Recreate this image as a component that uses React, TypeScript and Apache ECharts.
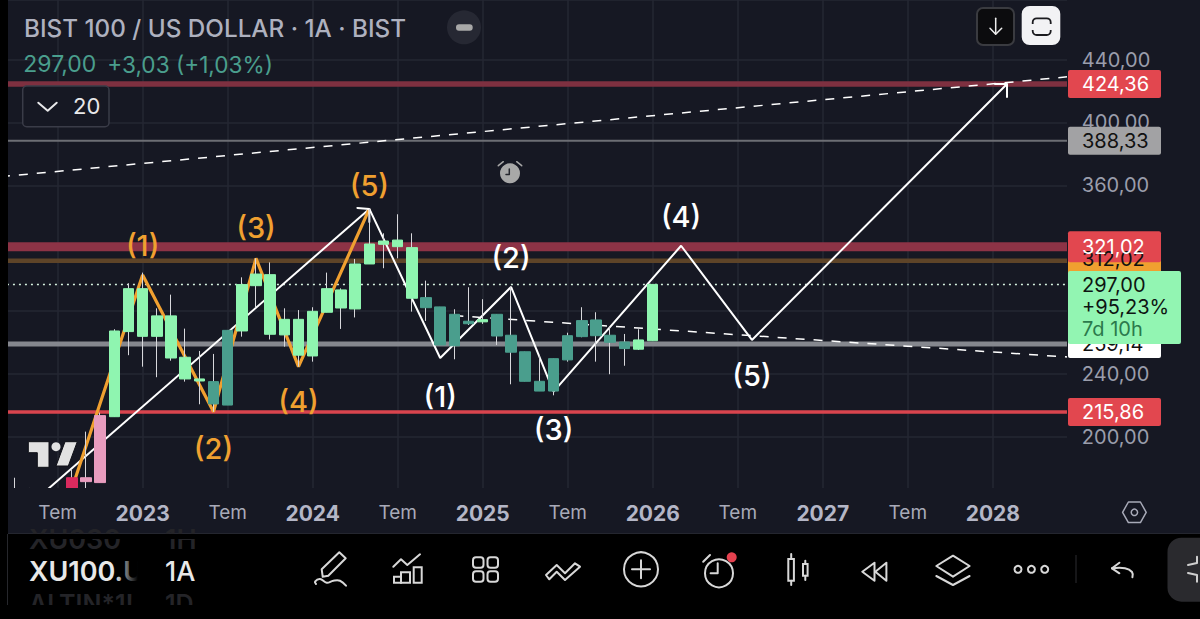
import React, { useEffect, useRef } from "react";
import * as echarts from "echarts";

const FONT = "Inter, 'Noto Sans', sans-serif";

// Mar 2022 .. Jul 2028, one entry per month
const startYear = 2022;
const startMonth = 2;
const monthCount = 77;
const categories: string[] = [];
for (let i = 0; i < monthCount; i++) {
  const m = startMonth + i;
  categories.push(`${startYear + Math.floor(m / 12)}-${String((m % 12) + 1).padStart(2, "0")}`);
}

// Candle values from Mar 2022. null = outside the visible range.
const opens: (number | null)[] = [
  null, null, null, null, null, 166, 171.6, 171, 212.9, 267, 264, 277, 277, 250.7, 235.6, 235.2, 267.8,
  267.4, 296.2, 303.2, 274.8, 274.8, 251.5, 279.3, 282, 281.4, 310, 322.5, 325.2, 320.4, 288.6, 282.7,
  278, 273.6, 273.2, 278, 264.7, 254.2, 235.4, 249.8, 249, 263.8, 274.4, 264.7, 260.4, 255.8, 261.2,
];
const closes: (number | null)[] = [
  null, null, null, null, null, 174.1, 174.1, 213.6, 267.4, 294.3, 294.3, 264, 250.2, 236.9, 236.9, 221, 220.3,
  296.9, 303.6, 265.3, 264.9, 252, 279.9, 294.3, 293.5, 310, 322.7, 324.6, 321, 288.2, 282.2, 258.5,
  258, 272, 274.6, 264.2, 253.9, 235.4, 229.2, 229.2, 264.4, 274, 264.4, 260.2, 256.2, 261.7, 297,
];
const lows: (number | null)[] = [
  null, 164, 164, null, null, 166, 164, 171, 212.9, 252, 244.7, 238, 248.5, 235.2, 220.8, 216, 220.3,
  263.8, 282.5, 262, 257.4, 244.7, 247.9, 279.3, 268.7, 276, 310, 307.3, 313.6, 279.7, 273.8, 258.5,
  249.4, 271.2, 271.9, 258.5, 233.5, 235.4, 229.2, 226.5, 247.9, 263.4, 247.9, 239.9, 245.3, 255.3, 261.2,
];
const highs: (number | null)[] = [
  null, 174.1, 167.6, null, null, 179, 203.4, 215.5, 268.5, 297.7, 304.5, 281.8, 290.5, 268.9, 254.7, 252.8, 267.8,
  301.5, 313.6, 311, 281.8, 280.7, 282.5, 304.5, 294.5, 313.2, 345.4, 329.5, 341.6, 329.5, 299.4, 282.7,
  281.2, 295.2, 287.6, 278, 295.6, 254.2, 252.1, 249.8, 266.3, 282.5, 279.3, 270.2, 265.5, 268.5, 297,
];
// r red, p pink, g bright green, t teal
const kindOf: string[] = [
  "r", "r", "r", "r", "r", "r", "p", "p", "g", "g", "g", "g", "g", "g", "g", "t", "t",
  "g", "g", "g", "g", "g", "g", "g", "g", "g", "g", "g", "g", "g", "t", "t",
  "t", "t", "g", "t", "t", "t", "t", "t", "t", "t", "t", "t", "t", "g", "g",
];

const yTicksLabelled = [200, 240, 280, 320, 360, 400, 440];
const orangeWave: [number, number][] = [[5, 167], [10, 303], [15, 216], [18, 313.6], [21, 244.7], [26, 345]];
const whiteLeadIn: [number, number][] = [[3, 164.4], [26, 345]];
const whiteWave: [number, number][] = [[26, 345], [31, 250.2], [36, 295.4], [39, 228.8], [48, 321.6], [53, 261.7], [71, 424.4]];
const upperDashed: [number, number][] = [[0, 365.5], [76, 429.6]];
const lowerDashed: [number, number][] = [[32, 277.2], [76, 250.4]];

const levelRed1 = 424.36;
const levelGrey = 388.33;
const levelRed2 = 321.02;
const levelOrange = 312.02;
const levelLast = 297;
const levelGreyThick = 259.14;
const levelRed3 = 215.86;

const orangeLabels: [number, number, string][] = [[10, 322, "(1)"], [15, 192.4, "(2)"], [18, 332.9, "(3)"], [21, 222.3, "(4)"], [26, 360.2, "(5)"]];
const whiteLabels: [number, number, string][] = [[31, 226, "(1)"], [36, 314.4, "(2)"], [39, 204.5, "(3)"], [48, 340.5, "(4)"], [53, 238.8, "(5)"]];

const COLORS: Record<string, string> = { r: "#d92a5e", p: "#e89cbe", g: "#8ff5b0", t: "#4a9e8d" };
const BG = "#161823";

function levelSeries(v: number, color: string, width: number, type: any = "solid") {
  return {
    type: "line", z: 1, symbol: "none", silent: true,
    data: [[0, v], [76, v]],
    lineStyle: { color, width, type, cap: "butt" },
  };
}
function pathSeries(data: [number, number][], color: string, width: number, type: any = "solid") {
  return { type: "line", z: 1, symbol: "none", silent: true, data, lineStyle: { color, width, type } };
}

export default function App() {
  const ref = useRef<HTMLDivElement>(null);
  useEffect(() => {
    const chart = echarts.init(ref.current!, undefined, { renderer: "svg" });
    const isLabelled = (i: number) => {
      const m = (startMonth + i) % 12;
      return (m === 0 || m === 6) && i < 76;
    };
    const bodyData = opens.map((o, i) => {
      const c = closes[i];
      if (o == null || c == null) return { value: ["-", "-", "-", "-"] };
      const col = COLORS[kindOf[i]];
      return {
        value: [o, c, Math.min(o, c), Math.max(o, c)],
        itemStyle: { color: col, color0: col, borderColor: col, borderColor0: col },
      };
    });
    const wickData = lows.map((l, i) => {
      const h = highs[i];
      if (l == null || h == null) return { value: ["-", "-", "-", "-"] };
      return { value: [l, h, l, h] };
    });
    const labelSeries = (data: [number, number, string][], color: string) => ({
      type: "scatter", z: 5, silent: true, symbolSize: 1, itemStyle: { color: "rgba(0,0,0,0)" },
      data,
      label: {
        show: true, position: "inside", color, fontFamily: FONT, fontSize: 29, fontWeight: 500, opacity: 1,
        formatter: (p: any) => p.data[2],
      },
    });

    chart.setOption({
      animation: false,
      backgroundColor: BG,
      grid: { left: 0.93, right: 122.15, top: 0, bottom: 119.1, containLabel: false },
      xAxis: [
        {
          type: "category", data: categories, boundaryGap: false, z: 0,
          axisLine: { show: false }, axisTick: { show: false }, axisLabel: { show: false },
          splitLine: { show: true, interval: (i: number) => isLabelled(i), lineStyle: { color: "#252733", width: 1.5 } },
        },
        {
          type: "category", data: categories, boundaryGap: false, z: 60, position: "bottom",
          axisLine: { show: false }, axisTick: { show: false }, splitLine: { show: false },
          axisLabel: {
            show: true, interval: (i: number) => isLabelled(i), margin: 3.5, hideOverlap: false,
            formatter: (v: string) => {
              const [y, m] = v.split("-");
              return m === "01" ? `{y|${y}}` : "{m|Tem}";
            },
            rich: {
              y: { fontFamily: FONT, fontSize: 21, fontWeight: 700, color: "#b4b6c6" },
              m: { fontFamily: FONT, fontSize: 19, color: "#a8aab8" },
            },
          },
        },
      ],
      yAxis: [
        {
          type: "value", min: 160, max: 477.83, interval: 40, position: "right", z: 0,
          axisLine: { show: false }, axisTick: { show: false }, axisLabel: { show: false },
          splitLine: { show: true, lineStyle: { color: "#252733", width: 1.5 } },
        },
        {
          type: "value", min: 160, max: 477.83, interval: 40, position: "right", z: 60,
          axisLine: { show: false }, axisTick: { show: false }, splitLine: { show: false },
          axisLabel: {
            show: true, margin: 4, fontFamily: FONT, fontSize: 20, color: "#9a9dab", padding: [0, 0, 4, 0],
            formatter: (v: number) => (yTicksLabelled.includes(v) ? v.toFixed(2).replace(".", ",") : ""),
          },
        },
      ],
      series: [
        levelSeries(levelRed1, "#7e3040", 5.5),
        levelSeries(levelGrey, "#6c6e74", 2),
        levelSeries(levelRed2, "#8d3346", 9),
        levelSeries(levelOrange, "#5e4428", 4.5),
        levelSeries(levelLast, "#d5f0de", 1.5, [2, 4]),
        levelSeries(levelGreyThick, "#85878e", 5),
        levelSeries(levelRed3, "#d9444e", 3.5),
        pathSeries(upperDashed, "#ffffff", 1.5, [9, 9]),
        pathSeries(lowerDashed, "#ffffff", 1.5, [9, 9]),
        pathSeries(whiteLeadIn, "#ffffff", 2),
        pathSeries(orangeWave, "#f0a030", 3.2),
        pathSeries(whiteWave, "#ffffff", 2),
        {
          type: "candlestick", z: 3, silent: true, barWidth: 1, data: wickData,
          itemStyle: { color: "#d8d8dc", color0: "#d8d8dc", borderColor: "#d8d8dc", borderColor0: "#d8d8dc", borderWidth: 1 },
        },
        {
          type: "candlestick", z: 4, silent: true, barWidth: 11, data: bodyData,
          itemStyle: { borderWidth: 1 },
        },
        labelSeries(orangeLabels, "#f0a030"),
        labelSeries(whiteLabels, "#ffffff"),
      ],
    });

    const py = (v: number) => chart.convertToPixel({ yAxisIndex: 0 }, v) as number;
    const px = (i: number) => chart.convertToPixel({ xAxisIndex: 0 }, i) as number;

    const ICON = "#d8d8d8";
    const txt = (text: string, x: number, y: number, fontSize: number, fill: string, z: number, extra: any = {}) => ({
      type: "text", z, silent: true,
      style: { text, x, y, fontSize, fill, fontFamily: FONT, textAlign: "left", textVerticalAlign: "middle", ...extra },
    });
    const rect = (x: number, y: number, w: number, h: number, fill: any, z: number, r = 0, stroke?: string, lw = 1) => ({
      type: "rect", z, silent: true, shape: { x, y, width: w, height: h, r },
      style: { fill, stroke: stroke ?? "none", lineWidth: lw },
    });
    const poly = (pts: number[][], z = 72, stroke = ICON, lw = 2, extra: any = {}) => ({
      type: "polyline", z, silent: true, shape: { points: pts, ...extra },
      style: { stroke, lineWidth: lw, fill: "none", lineJoin: "round", lineCap: "round" },
    });
    const polyClosed = (pts: number[][], z = 72, stroke = ICON, lw = 2, fill = "none") => ({
      type: "polygon", z, silent: true, shape: { points: pts },
      style: { stroke, lineWidth: lw, fill, lineJoin: "round" },
    });
    const circ = (cx: number, cy: number, r: number, fill: string, z = 72, stroke = "none", lw = 2) => ({
      type: "circle", z, silent: true, shape: { cx, cy, r }, style: { fill, stroke, lineWidth: lw },
    });

    const tag = (v: number, h: number, text: string, fill: string, color: string, dy = 0) => {
      const y = py(v);
      return [rect(1068, y - h / 2, 93, h, fill, 70, 2), txt(text, 1082, y + dy, 20, color, 71)];
    };
    const headA = [px(26), py(345)];
    const headB = [px(71), py(424.4)];
    const y297 = py(levelLast);

    const elements: any[] = [
      // logo
      polyClosed([[28.3, 441.7], [49, 441.7], [49, 467.3], [37.3, 467.3], [37.3, 452.7], [28.3, 452.7]], 2, "#0e0f16", 1, "#e2e2e2"),
      circ(56, 446.7, 4.5, "#e2e2e2", 2),
      polyClosed([[65, 441.7], [77.3, 441.7], [68.3, 466], [56, 466]], 2, "#0e0f16", 1, "#e2e2e2"),
      // arrow heads
      poly([[headA[0] - 12, headA[1] - 1], [headA[0], headA[1]], [headA[0], headA[1] + 13]], 2, "#ffffff", 2),
      poly([[headB[0] - 12, headB[1]], [headB[0], headB[1]], [headB[0], headB[1] + 13]], 2, "#ffffff", 2),
      // masks
      rect(0, 0, 8, 534, "#000000", 50),
      rect(1067, 0, 133, 488, BG, 50),
      rect(8, 488, 1192, 46, BG, 50),
      rect(0, 534, 1200, 85, "#000000", 50),
      rect(8, 533.5, 1192, 1, "#33353d", 51),
      rect(7, 534, 1, 71, "#26272c", 51),
      // tags (lowest first)
      ...tag(levelOrange, 28, "312,02", "#f0a030", "#111111", -2),
      ...tag(levelGreyThick, 28, "259,14", "#ffffff", "#111111"),
      ...tag(levelRed1, 28, "424,36", "#e2474f", "#ffffff"),
      ...tag(levelGrey, 28, "388,33", "#a2a2a4", "#111111"),
      ...tag(levelRed3, 28, "215,86", "#e2474f", "#ffffff"),
      ...tag(levelRed2, 31, "321,02", "#e2474f", "#ffffff"),
      { ...rect(1068, y297 - 13.5, 113, 73, "#92f5b2", 72, 2) },
      txt("297,00", 1082, y297 + 0.5, 20, "#0e1512", 73),
      txt("+95,23%", 1082, y297 + 23, 20, "#0e1512", 73),
      txt("7d 10h", 1082, y297 + 45, 20, "#2b7a4c", 73),
      // header
      txt("BIST 100 / US DOLLAR · 1A · BIST", 24, 28.3, 24.25, "#aeb1bf", 70, { fontWeight: 500 }),
      txt("297,00", 23.3, 64, 23, "#4a9e8d", 70),
      txt("+3,03 (+1,03%)", 107.3, 64, 22.6, "#4a9e8d", 70),
      rect(22.7, 86, 86.3, 40.7, BG, 69, 4, "#3a3c48", 1.5),
      poly([[38.3, 102.7], [47.7, 110.7], [56.7, 102.7]], 70, "#e8e8ea", 2),
      txt("20", 73, 106, 22, "#e8e8ea", 70),
      circ(464, 27.3, 17, "#262833", 60),
      rect(456, 24.3, 16.7, 6.4, "#a8a8a8", 61, 3),
      // alarm marker
      circ(510, 173.3, 10, "#a8a8a8", 60),
      poly([[509.3, 169], [509.3, 174.5], [506, 174.5]], 61, "#26272e", 1.5),
      poly([[498.3, 165.7], [503.3, 161.7]], 61, "#a8a8a8", 1.5),
      poly([[521.7, 165.7], [516.7, 161.7]], 61, "#a8a8a8", 1.5),
      // top buttons
      rect(977, 8, 37, 37, "#0c0c0e", 70, 6, "#3a3b40", 2),
      poly([[995.7, 18.3], [995.7, 33.7]], 71, "#eeeeee", 1.5),
      poly([[990, 28.3], [995.7, 34.3], [1001.7, 28.3]], 71, "#eeeeee", 1.5),
      rect(1021.7, 6, 38.6, 39, "#f2f2f4", 70, 8),
      rect(1032.7, 18.3, 18, 16.7, "none", 71, 4, "#1a1a1e", 1.8),
      rect(1030, 24, 24, 6, "#f2f2f4", 72),
      // hex settings
      polyClosed([[1122.6, 512.3], [1128.4, 502], [1140.4, 502], [1146.2, 512.3], [1140.4, 522.6], [1128.4, 522.6]], 70, "#a8aab8", 1.5),
      circ(1134.4, 512.3, 3.2, "none", 70, "#a8aab8", 1.5),
      // bottom toolbar
      txt("XU030", 29, 539, 27, "#242428", 60, { fontWeight: 600 }),
      txt("1H", 165, 539, 27, "#242428", 60, { fontWeight: 600 }),
      rect(0, 534, 1200, 5, "#000000", 61),
      txt("ALTIN*1!", 29, 604, 25, "#242428", 60, { fontWeight: 600 }),
      txt("1D", 165, 604, 25, "#242428", 60, { fontWeight: 600 }),
      rect(0, 605, 1200, 14, "#000000", 61),
      rect(0, 534, 7, 85, "#000000", 61),
      rect(7, 534, 1, 71, "#26272c", 61),
      txt("XU100.U", 29, 571, 27, "#e8e8e8", 70, { fontWeight: 600 }),
      rect(115, 555, 35, 32, new echarts.graphic.LinearGradient(0, 0, 1, 0, [
        { offset: 0, color: "rgba(0,0,0,0)" }, { offset: 0.65, color: "rgba(0,0,0,1)" }, { offset: 1, color: "rgba(0,0,0,1)" },
      ]), 71),
      txt("1A", 165, 571, 27, "#e8e8e8", 70, { fontWeight: 500 }),
      // pen
      polyClosed([[321.7, 569.3], [339.3, 552.3], [345.7, 558.3], [328.3, 575.7], [322.7, 576.7]], 72, ICON, 2),
      poly([[316, 584], [315, 581.7], [320, 579], [326.7, 582.7], [333.3, 580.7], [340, 580.7], [346, 585.7]], 72, ICON, 2, { smooth: 0.4 }),
      // chart icon
      poly([[393.3, 566.7], [401, 559.3], [407.3, 565], [420, 554.3]], 72, ICON, 2),
      rect(394, 576.7, 7, 6, "none", 72, 0, ICON, 2),
      rect(401, 572.3, 9, 10.4, "none", 72, 0, ICON, 2),
      rect(413.7, 567.3, 8, 15.4, "none", 72, 0, ICON, 2),
      // grid icon
      rect(473, 557.3, 10.5, 10.5, "none", 72, 3, ICON, 2),
      rect(487.5, 557.3, 10.5, 10.5, "none", 72, 3, ICON, 2),
      rect(473, 571.3, 10.5, 10.5, "none", 72, 3, ICON, 2),
      rect(487.5, 571.3, 10.5, 10.5, "none", 72, 3, ICON, 2),
      // double chevron
      polyClosed([[546, 575], [556.7, 565], [565, 573.3], [575, 563.3], [580, 566.7], [565, 580], [556.7, 571.7], [549.3, 579.3]], 72, ICON, 2),
      // plus
      circ(641, 569.3, 17, "none", 72, ICON, 2),
      poly([[632, 569.3], [650, 569.3]], 72, ICON, 2),
      poly([[641, 560.3], [641, 578.3]], 72, ICON, 2),
      // alarm
      circ(719, 573.3, 14, "none", 72, ICON, 2),
      poly([[717.7, 563.3], [717.7, 573.3], [710.6, 573.3]], 72, ICON, 2),
      poly([[703.2, 561.7], [710, 555]], 72, ICON, 2),
      circ(731.7, 557.3, 5, "#e5414f", 73),
      // candles
      rect(788.3, 559, 5.6, 21.7, "none", 72, 0, ICON, 2),
      poly([[791.2, 554], [791.2, 559]], 72, ICON, 2),
      poly([[791.2, 580.7], [791.2, 585]], 72, ICON, 2),
      rect(803, 564, 4.6, 11.7, "none", 72, 0, ICON, 2),
      poly([[805.3, 560.7], [805.3, 564]], 72, ICON, 2),
      poly([[805.3, 575.7], [805.3, 580]], 72, ICON, 2),
      // rewind
      polyClosed([[862.3, 571.7], [874.5, 562.7], [874.5, 580.7]], 72, ICON, 2),
      polyClosed([[875.3, 571.7], [886.4, 562.7], [886.4, 580.7]], 72, ICON, 2),
      // layers
      polyClosed([[953, 555.7], [969.6, 566], [953, 576.7], [936.3, 566]], 72, ICON, 2),
      poly([[936.3, 576], [953, 585], [969.6, 576]], 72, ICON, 2),
      // dots
      circ(1018, 569.3, 3.5, "none", 72, ICON, 2),
      circ(1031.4, 569.3, 3.5, "none", 72, ICON, 2),
      circ(1044.7, 569.3, 3.5, "none", 72, ICON, 2),
      rect(1075.5, 555, 1, 28, "#2c2c30", 72),
      // undo
      poly([[1119.4, 562.7], [1112, 568.3], [1119.4, 573.3]], 72, ICON, 2),
      poly([[1112, 568.3], [1125, 568.3], [1132, 572], [1132.4, 577.3]], 72, ICON, 2, { smooth: 0.4 }),
      // side handle
      rect(1167.5, 537.7, 50, 64, "#2a2a2e", 72, 14),
      poly([[1197, 556.7], [1197, 563], [1188, 565]], 73, "#cfcfcf", 2),
      poly([[1188, 573], [1197, 575], [1197, 581.7]], 73, "#cfcfcf", 2),
    ];
    chart.setOption({ graphic: { elements } });
    return () => chart.dispose();
  }, []);
  return <div ref={ref} style={{ position: "fixed", left: 0, top: 0, width: 1200, height: 619 }} />;
}
